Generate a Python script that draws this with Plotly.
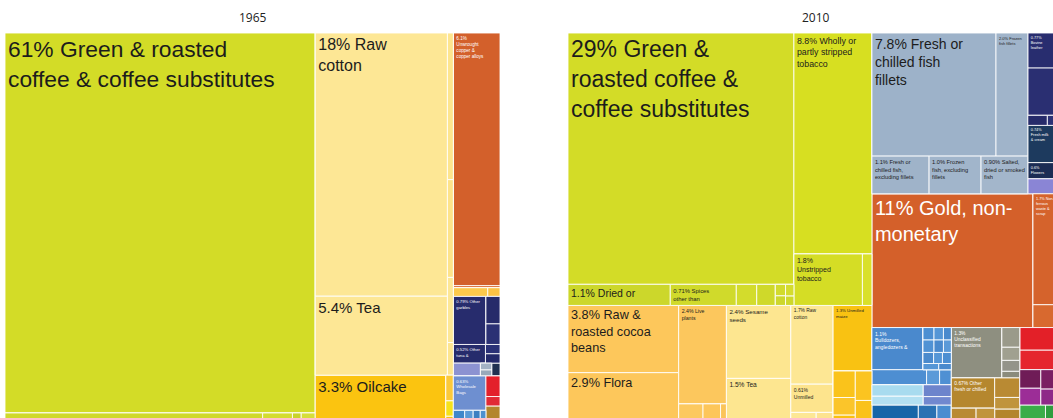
import plotly.graph_objects as go

# =============== DATA ===============
# ---------------- 1965 ----------------
ids_1965 = [
    "1965", "c1", "c2", "c3",
    "coffee", "c1s", "c1s_a", "c1s_b", "c1s_c", "c1s_d",
    "c2p", "c2pm", "cotton", "tea", "c2ps", "c2ps_a", "c2ps_b", "c2ps_c", "c2ps_d",
    "c2g", "oilcake", "c2gs", "c2gs_a", "c2gs_b", "c2gs_c",
    "copper", "c3o", "c3y", "c3y_a", "c3y_b",
    "c3n", "garbles", "c3nr", "c3nr_a", "c3nr_b",
    "c3m", "c3m_a", "c3mr", "c3mr_a", "c3mr_b",
    "c3p", "c3p_a", "c3pg", "c3pg_a", "c3pg_b", "c3p_c",
    "c3b", "c3bl", "c3bl_a", "c3blr", "c3blr_a", "c3blr_b", "c3blr_c", "c3blr_d",
    "c3br", "c3br_a", "c3br_b", "c3br_c", "c3br_d",
]
parents_1965 = [
    "", "1965", "1965", "1965",
    "c1", "c1", "c1s", "c1s", "c1s", "c1s",
    "c2", "c2p", "c2pm", "c2pm", "c2p", "c2ps", "c2ps", "c2ps", "c2ps",
    "c2", "c2g", "c2g", "c2gs", "c2gs", "c2gs",
    "c3", "c3", "c3", "c3y", "c3y",
    "c3", "c3n", "c3n", "c3nr", "c3nr",
    "c3", "c3m", "c3m", "c3mr", "c3mr",
    "c3", "c3p", "c3p", "c3pg", "c3pg", "c3p",
    "c3", "c3b", "c3bl", "c3bl", "c3blr", "c3blr", "c3blr", "c3blr",
    "c3b", "c3br", "c3br", "c3br", "c3br",
]
# share of exports (%); 0 for grouping nodes (their size is the sum of children)
values_1965 = [
    0, 0, 0, 0,
    61, 0, 1.47, 0.17, 0.05, 0.08,
    0, 0, 18, 5.4, 0, 0.45, 0.3, 0.2, 0.1,
    0, 3.3, 0, 0.1, 0.06, 0.03,
    6.1, 0.05, 0, 0.155, 0.055,
    0, 0.81, 0, 0.2, 0.15,
    0, 0.31, 0, 0.07, 0.07,
    0, 0.18, 0, 0.04, 0.035, 0.055,
    0, 0, 0.58, 0, 0.08, 0.06, 0.05, 0.04,
    0, 0.15, 0.07, 0.09, 0.04,
]
labels_1965 = [
    "", "", "", "",
    "61% Green & roasted<br>coffee & coffee substitutes", "", "", "", "", "",
    "", "", "18% Raw<br>cotton", "5.4% Tea", "", "", "", "", "",
    "", "3.3% Oilcake", "", "", "", "",
    "6.1%<br>Unwrought<br>copper &<br>copper alloys", "", "", "", "",
    "", "0.79% Other<br>garbles", "", "", "",
    "", "0.52% Other<br>tuna &", "", "", "",
    "", "", "", "", "", "",
    "", "", "0.63%<br>Wholesale<br>Bags", "", "", "", "", "",
    "", "", "", "", "",
]

# ---------------- 2010 ----------------
ids_2010 = [
    "2010", "L", "R",
    "LG", "LGc", "coffee", "LGcs", "dried", "spices", "LGcs_c", "LGcs_d",
    "LGcs5", "LGcs5_a", "LGcs5_b", "LGcs6", "LGcs6_a", "LGcs6_b",
    "LGt", "tobacco", "LGts", "unstripped", "LGts_b",
    "LY", "colA", "cocoa", "flora",
    "colB", "plants", "colBr", "colBr_a", "colBr_b", "colBr_c",
    "colC", "sesame", "tea",
    "colD", "cotton", "unmilled", "colDr", "colDr_a", "colDr_b",
    "colE", "maize", "colEr", "colEr1", "colEr1_a", "colEr1_b", "colEr1_c", "colEr2", "colEr2_a", "colEr2_b",
    "RT", "fish", "fishr1", "fillets", "frozenfillets", "fishr2", "freshfish", "frozenfish", "salted",
    "navy", "leather", "navy2", "navy3", "navy3_a", "navy3_b", "milk", "flowers", "lav",
    "RG", "gold", "RGo", "scrap", "RGo_b",
    "RB", "blue", "bl1", "dozers", "bl1g", "bl1g1", "bl1g1_a", "bl1g1_b", "bl1g1_c", "bl1g2", "bl1g2_a", "bl1g2_b", "bl1g2_c", "bl1g3", "bl1g3_a", "bl1g3_b", "bl1g3_c", "bl1g4", "bl1g4_a", "bl1g4_b",
    "bl2", "bl2_a", "bl2_b", "bl2_c",
    "bl3", "bl3a", "bl3a_a", "bl3a_b", "bl3b", "bl3b_a", "bl3b_b",
    "bl4", "bl4_a", "bl4_b", "bl4_c",
    "grey", "gr1", "unclassified", "gr1c", "gr1c_a", "gr1c_b", "gr1c_c", "gr1c_d",
    "gr2", "gr2c", "brown", "gr2r", "gr2r_a", "gr2r_b", "gr2d", "gr2d_a", "gr2d_b", "gr2d_c", "gr2d_d",
    "red", "red_a", "red_b", "pur", "pur1", "pur1_a", "pur1_b", "pur2", "pur2_a", "pur2_b", "grn", "grn_a", "grn_b",
]
parents_2010 = [
    "", "2010", "2010",
    "L", "LG", "LGc", "LGc", "LGcs", "LGcs", "LGcs", "LGcs",
    "LGcs", "LGcs5", "LGcs5", "LGcs", "LGcs6", "LGcs6",
    "LG", "LGt", "LGt", "LGts", "LGts",
    "L", "LY", "colA", "colA",
    "LY", "colB", "colB", "colBr", "colBr", "colBr",
    "LY", "colC", "colC",
    "LY", "colD", "colD", "colD", "colDr", "colDr",
    "LY", "colE", "colE", "colEr", "colEr1", "colEr1", "colEr1", "colEr", "colEr2", "colEr2",
    "R", "RT", "fish", "fishr1", "fishr1", "fish", "fishr2", "fishr2", "fishr2",
    "RT", "navy", "navy", "navy", "navy3", "navy3", "navy", "navy", "navy",
    "R", "RG", "RG", "RGo", "RGo",
    "R", "RB", "blue", "bl1", "bl1", "bl1g", "bl1g1", "bl1g1", "bl1g1", "bl1g", "bl1g2", "bl1g2", "bl1g2", "bl1g", "bl1g3", "bl1g3", "bl1g3", "bl1g", "bl1g4", "bl1g4",
    "blue", "bl2", "bl2", "bl2",
    "blue", "bl3", "bl3a", "bl3a", "bl3", "bl3b", "bl3b",
    "blue", "bl4", "bl4", "bl4",
    "RB", "grey", "gr1", "gr1", "gr1c", "gr1c", "gr1c", "gr1c",
    "grey", "gr2", "gr2c", "gr2c", "gr2r", "gr2r", "gr2", "gr2d", "gr2d", "gr2d", "gr2d",
    "RB", "red", "red", "red", "pur", "pur1", "pur1", "pur", "pur2", "pur2", "red", "grn", "grn",
]
values_2010 = [
    0, 0, 0,
    0, 0, 29, 0, 1.1, 0.71, 0.22, 0.2,
    0, 0.06, 0.05, 0, 0.05, 0.04,
    0, 8.8, 0, 1.8, 0.25,
    0, 0, 3.8, 2.9,
    0, 2.4, 0, 0.25, 0.18, 0.06,
    0, 2.4, 1.5,
    0, 1.7, 0.61, 0, 0.15, 0.1,
    0, 1.3, 0, 0, 0.3, 0.2, 0.1, 0, 0.25, 0.2,
    0, 0, 0, 7.8, 2.0, 0, 1.1, 1.0, 0.9,
    0, 0.63, 0.85, 0, 0.1, 0.08, 0.67, 0.29, 0.27,
    0, 11, 0, 1.7, 0.35,
    0, 0, 0, 1.1, 0, 0, 0.07, 0.06, 0.05, 0, 0.07, 0.06, 0.05, 0, 0.06, 0.05, 0.05, 0, 0.05, 0.04,
    0, 0.42, 0.1, 0.09,
    0, 0, 0.3, 0.23, 0, 0.17, 0.12,
    0, 0.45, 0.18, 0.14,
    0, 0, 1.3, 0, 0.18, 0.12, 0.1, 0.06,
    0, 0, 0.67, 0, 0.2, 0.15, 0, 0.25, 0.15, 0.12, 0.07,
    0, 0.5, 0.43, 0, 0, 0.2, 0.18, 0, 0.22, 0.18, 0, 0.25, 0.17,
]
labels_2010 = [
    "", "", "",
    "", "", "29% Green &<br>roasted coffee &<br>coffee substitutes", "", "1.1% Dried or", "0.71% Spices<br>other than", "", "",
    "", "", "", "", "", "",
    "", "8.8% Wholly or<br>partly stripped<br>tobacco", "", "1.8%<br>Unstripped<br>tobacco", "",
    "", "", "3.8% Raw &<br>roasted cocoa<br>beans", "2.9% Flora",
    "", "2.4% Live<br>plants", "", "", "", "",
    "", "2.4% Sesame<br>seeds", "1.5% Tea",
    "", "1.7% Raw<br>cotton", "0.61%<br>Unmilled", "", "", "",
    "", "1.3% Unmilled<br>maize", "", "", "", "", "", "", "", "",
    "", "", "", "7.8% Fresh or<br>chilled fish<br>fillets", "2.0% Frozen<br>fish fillets", "", "1.1% Fresh or<br>chilled fish,<br>excluding fillets", "1.0% Frozen<br>fish, excluding<br>fillets", "0.90% Salted,<br>dried or smoked<br>fish",
    "", "0.77%<br>Bovine<br>leather", "", "", "", "", "0.74%<br>Fresh milk<br>& cream", "0.6%<br>Flowers", "",
    "", "11% Gold, non-<br>monetary", "", "1.7% Non-<br>ferrous<br>waste &<br>scrap", "",
    "", "", "", "1.1%<br>Bulldozers,<br>angledozers &", "", "", "", "", "", "", "", "", "", "", "", "", "", "", "", "",
    "", "", "", "",
    "", "", "", "", "", "", "",
    "", "", "", "",
    "", "", "1.3%<br>Unclassified<br>transactions", "", "", "", "", "",
    "", "", "0.67% Other<br>fresh or chilled", "", "", "", "", "", "", "", "",
    "", "", "", "", "", "", "", "", "", "", "", "", "",
]
titles = ["1965", "2010"]

# =============== STYLE ===============
W = "#ffffff"
colors_1965 = [
    W, W, W, W,
    "#d3dc27", W, "#cfd92b", "#d3dc2f", "#c9d32a", "#d6de3a",
    W, W, "#fde795", "#fde795", W, "#fde58e", "#fde38a", "#fde795", "#fde58e",
    W, "#fbc410", W, "#fbc93a", "#f6e21a", "#fbc410",
    "#d3602b", "#d8662f", W, "#fcc94c", "#fbc245",
    W, "#272c6d", W, "#262b6a", "#2b3174",
    W, "#262c6c", W, "#2a3177", "#23296a",
    W, "#8c92d1", W, "#a3b2c4", "#98a9bb", "#1f3050",
    W, W, "#6e8fd0", W, "#3f87ca", "#5a9ad6", "#3b7fc2", "#4d91d0",
    W, "#e3202b", "#e12a35", "#b3862d", "#33a84a",
]
colors_2010 = [
    W, W, W,
    W, W, "#d3dc27", W, "#ccd72b", "#d0da2b", "#d3dc2c", "#cfd92a",
    W, "#d2db2d", "#cdd72c", W, "#d4dc2e", "#ced82a",
    W, "#d7df21", W, "#d5dd25", "#d9e02a",
    W, W, "#fdc75b", "#fdc75b",
    W, "#fcc75d", W, "#fcc95f", "#fdc65a", "#fbc458",
    W, "#fde690", "#fde690",
    W, "#fde794", "#fde48d", W, "#fde795", "#fde390",
    W, "#f9c212", W, W, "#fac31b", "#fbc52a", "#f9c010", W, "#fbc420", "#fac21a",
    W, W, W, "#9db2c9", "#a0b4ca", W, "#9fb3c9", "#a1b5cb", "#a3b6cb",
    W, "#282d6f", "#2a2f72", W, "#262b6a", "#2c3276", "#1d3a5e", "#1b2c54", "#8a85d5",
    W, "#d4602a", W, "#d5632c", "#d8692f",
    W, W, W, "#4a89cd", W, W, "#4d8fd2", "#5596d6", "#4a8acd", W, "#5092d4", "#4a8acd", "#5b9ad8", W, "#4a8acd", "#5596d6", "#4d8fd2", W, "#5596d6", "#4a8acd",
    W, "#4d8ed2", "#5b9ad8", "#4f90d3",
    W, W, "#a8dbef", "#b3e0f2", W, "#6d84cc", "#7188cf",
    W, "#1766a8", "#2a72b3", "#4a8dd0",
    W, W, "#8e8f80", W, "#9a9a8a", "#a0a090", "#94948a", "#8a8b7c",
    W, W, "#b5872e", W, "#b98a33", "#c0943c", W, "#b98a33", "#c0943c", "#b3852c", "#c49a45",
    W, "#e32028", "#e5262e", W, W, "#6f1c57", "#9c2d97", W, "#7a1f63", "#8e2888", W, "#3aad48", "#2e9d3e",
]
label_size_1965 = {"coffee": 22.8, "cotton": 16, "tea": 15, "oilcake": 15, "copper": 4.6}
label_size_2010 = {"coffee": 23, "dried": 10.5, "spices": 7.2, "tobacco": 8.8,
                   "unstripped": 7, "cocoa": 12.7, "flora": 12.7, "plants": 5.2,
                   "sesame": 6.2, "tea": 6.6, "cotton": 4.9, "unmilled": 5, "maize": 4.3,
                   "fillets": 14, "frozenfillets": 4, "freshfish": 5.7, "frozenfish": 5.7,
                   "salted": 5.7, "gold": 20, "scrap": 3.8, "dozers": 5.1,
                   "unclassified": 4.9, "brown": 4.9, "leather": 3.8, "milk": 3.8,
                   "flowers": 3.8}
DEFAULT_SIZE = 4.2

FIG_W, FIG_H = 1075, 432
LABEL_FONT = "Liberation Sans, Arial, sans-serif"


def text_colors(colors):
    out = []
    for c in colors:
        r, g, b = int(c[1:3], 16), int(c[3:5], 16), int(c[5:7], 16)
        lum = (0.299 * r + 0.587 * g + 0.114 * b) / 255
        out.append("#1c1c1c" if lum > 0.62 else "#ffffff")
    return out


def make_treemap(ids, parents, values, colors, labels, size_map, x0, x1):
    sizes = [size_map.get(i, DEFAULT_SIZE) for i in ids]
    return go.Treemap(
        ids=ids, labels=ids, parents=parents, values=values, text=labels,
        branchvalues="remainder", sort=False,
        textinfo="text", textposition="top left",
        textfont=dict(family=LABEL_FONT, size=sizes, color=text_colors(colors)),
        marker=dict(colors=colors, line=dict(color="rgba(255,255,255,0.85)", width=1),
                    pad=dict(t=0, l=0, r=0, b=0), depthfade=False),
        tiling=dict(packing="slice-dice", pad=0),
        pathbar=dict(visible=False),
        hoverinfo="skip",
        domain=dict(x=[x0 / FIG_W, x1 / FIG_W], y=[1 - 424 / FIG_H, 1 - 33 / FIG_H]),
    )


fig = go.Figure()
fig.add_trace(make_treemap(ids_1965, parents_1965, values_1965, colors_1965,
                           labels_1965, label_size_1965, 5, 500))
fig.add_trace(make_treemap(ids_2010, parents_2010, values_2010, colors_2010,
                           labels_2010, label_size_2010, 568, 1063))

for title, (x0, x1) in zip(titles, [(5, 500), (568, 1063)]):
    fig.add_annotation(text=title, x=(x0 + x1) / 2 / FIG_W, y=1 - 18 / FIG_H,
                       xref="paper", yref="paper", xanchor="center", yanchor="middle",
                       showarrow=False,
                       font=dict(family="Open Sans, sans-serif", size=12, color="#222222"))

fig.update_layout(width=FIG_W, height=FIG_H, margin=dict(l=0, r=0, t=0, b=0),
                  paper_bgcolor="#ffffff", plot_bgcolor="#ffffff", showlegend=False)

fig.write_html("out.html", config={"displayModeBar": False},
               post_script="document.body.style.margin='0';"
                           "document.body.style.overflow='hidden';"
                           "document.documentElement.style.overflow='hidden';")
